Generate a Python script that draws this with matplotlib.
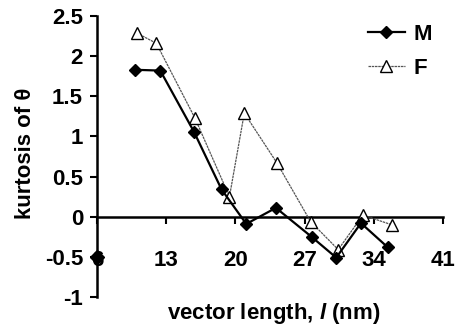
import matplotlib.pyplot as plt
import numpy as np

plt.rcParams['font.family'] = ['Liberation Sans', 'DejaVu Sans']
plt.rcParams['font.weight'] = 'bold'
plt.rcParams['mathtext.fontset'] = 'custom'
plt.rcParams['mathtext.it'] = 'Liberation Sans:italic:bold'

# donnees
m_x = [9.8, 12.4, 15.8, 18.6, 21.1, 24.1, 27.7, 30.2, 32.7, 35.4]
m_y = [1.83, 1.82, 1.06, 0.34, -0.09, 0.11, -0.25, -0.51, -0.08, -0.38]
f_x = [10.0, 12.0, 15.9, 19.4, 20.9, 24.2, 27.6, 30.4, 32.9, 35.8]
f_y = [2.29, 2.16, 1.23, 0.25, 1.29, 0.67, -0.06, -0.41, 0.02, -0.10]
stray_x = [6]
stray_y = [-0.5]

x_ticks = [6, 13, 20, 27, 34, 41]
y_ticks = [-1, -0.5, 0, 0.5, 1, 1.5, 2, 2.5]
y_labels = ['-1', '-0.5', '0', '0.5', '1', '1.5', '2', '2.5']

fig = plt.figure(figsize=(4.56, 3.25), dpi=100)
ax = fig.add_axes([0.2127, 0.0862, 0.7588, 0.8646])

ax.plot(m_x, m_y, color='black', lw=1.6, marker='D', ms=6.5,
        mfc='black', mec='black', label='M', zorder=4)
ax.plot(f_x, f_y, color='#555555', lw=0.9, ls=(0, (2, 0.6)), marker='^', ms=9,
        mfc='white', mec='black', mew=1.0, label='F', zorder=3)
ax.plot(stray_x, stray_y, ls='none', marker='D', ms=7, color='black',
        clip_on=False, zorder=6)

ax.set_xlim(6, 41)
ax.set_ylim(-1, 2.5)
ax.spines['top'].set_visible(False)
ax.spines['right'].set_visible(False)
ax.spines['left'].set_position(('data', 6))
ax.spines['bottom'].set_position(('data', 0))
ax.spines['left'].set_linewidth(1.8)
ax.spines['bottom'].set_linewidth(1.8)

ax.set_xticks(x_ticks)
ax.set_xticklabels([str(t) for t in x_ticks])
ax.set_yticks(y_ticks)
ax.set_yticklabels(y_labels)
ax.tick_params(axis='x', direction='out', length=5, width=1.5, pad=19, labelsize=16)
ax.tick_params(axis='y', direction='out', length=5, width=1.5, pad=5, labelsize=16)

ax.set_xlabel(r'vector length, $l$ (nm)', fontsize=16, fontweight='bold', va='center')
ax.xaxis.set_label_coords(0.512, -0.057)
ax.set_ylabel('kurtosis of θ', fontsize=16, fontweight='bold', va='center')
ax.yaxis.set_label_coords(-0.208, 0.51)

leg = ax.legend(loc='upper left', bbox_to_anchor=(0.783, 0.972), frameon=False,
                fontsize=16, handlelength=1.67, handletextpad=0.38,
                labelspacing=0.6, borderpad=0, borderaxespad=0)

fig.savefig('out.png', dpi=100)
